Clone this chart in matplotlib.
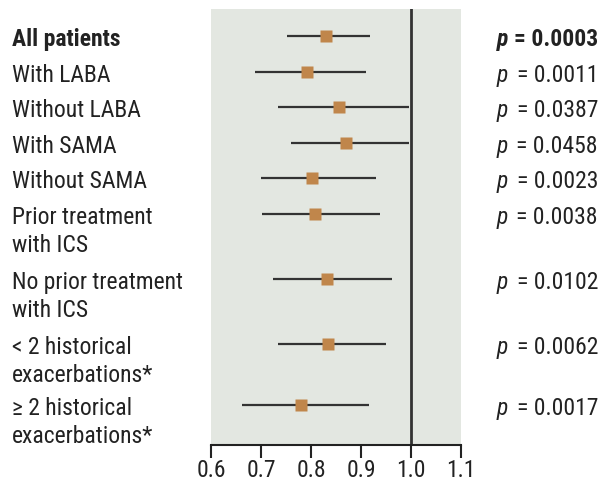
import numpy as np
import matplotlib
matplotlib.use("Agg")
from matplotlib import pyplot as plt

plt.rcParams['font.family'] = ['Roboto Condensed', 'Archivo Narrow', 'Liberation Sans', 'DejaVu Sans']

labels = ["All patients", "With LABA", "Without LABA", "With SAMA", "Without SAMA",
          "Prior treatment\nwith ICS", "No prior treatment\nwith ICS",
          "< 2 historical\nexacerbations*", "\u2265 2 historical\nexacerbations*"]
est = [0.83, 0.792, 0.856, 0.87, 0.802, 0.808, 0.832, 0.834, 0.78]
lo = [0.751, 0.689, 0.734, 0.759, 0.701, 0.703, 0.724, 0.734, 0.661]
hi = [0.918, 0.911, 0.996, 0.996, 0.929, 0.938, 0.963, 0.951, 0.916]
pvals = ["0.0003", "0.0011", "0.0387", "0.0458", "0.0023", "0.0038", "0.0102", "0.0062", "0.0017"]
xticks = [0.6, 0.7, 0.8, 0.9, 1.0, 1.1]

# row centres (pixels from top)
rows = [37, 73, 108, 144, 179, 215, 280, 345, 406]
FS = 17

fig = plt.figure(figsize=(6, 4.81), dpi=100)
ax = fig.add_axes([211/600, 1 - 446/481, 250/600, 436/481])
ax.set_facecolor('#e3e7e1')
ax.set_xlim(0.6, 1.1)
ax.set_ylim(446, 10)

ax.axvline(1.0, color='#333333', lw=2, zorder=2)
ax.hlines(rows, lo, hi, color='#333333', lw=1.6, zorder=3)
ax.plot(est, rows, 's', color='#c0864b', ms=9, mec='none', zorder=4)

for s in ['top', 'right', 'left']:
    ax.spines[s].set_visible(False)
ax.spines['bottom'].set_linewidth(1.5)
ax.spines['bottom'].set_color('#222222')
ax.set_yticks([])
ax.set_xticks(xticks)
ax.set_xticklabels(["%.1f" % t for t in xticks], fontsize=FS, color='#222222')
ax.tick_params(axis='x', length=9, width=1.5, color='#222222', pad=0.5)

for i, (lab, y, p) in enumerate(zip(labels, rows, pvals)):
    w = 'bold' if i == 0 else 'normal'
    # first line of each label sits on its row
    lines = lab.split('\n')
    for k, ln in enumerate(lines):
        fig.text(12/600, 1 - (y + 28 * k) / 481, ln, ha='left', va='center_baseline',
                 fontsize=FS, fontweight=w, color='#222222')
    py = 1 - y / 481
    fig.text(497/600, py, "p", ha='left', va='center_baseline', fontsize=FS,
             style='italic', fontweight=w, color='#222222')
    fig.text(598/600, py, "= " + p, ha='right', va='center_baseline', fontsize=FS,
             fontweight=w, color='#222222')

fig.savefig('out.png', dpi=100)
